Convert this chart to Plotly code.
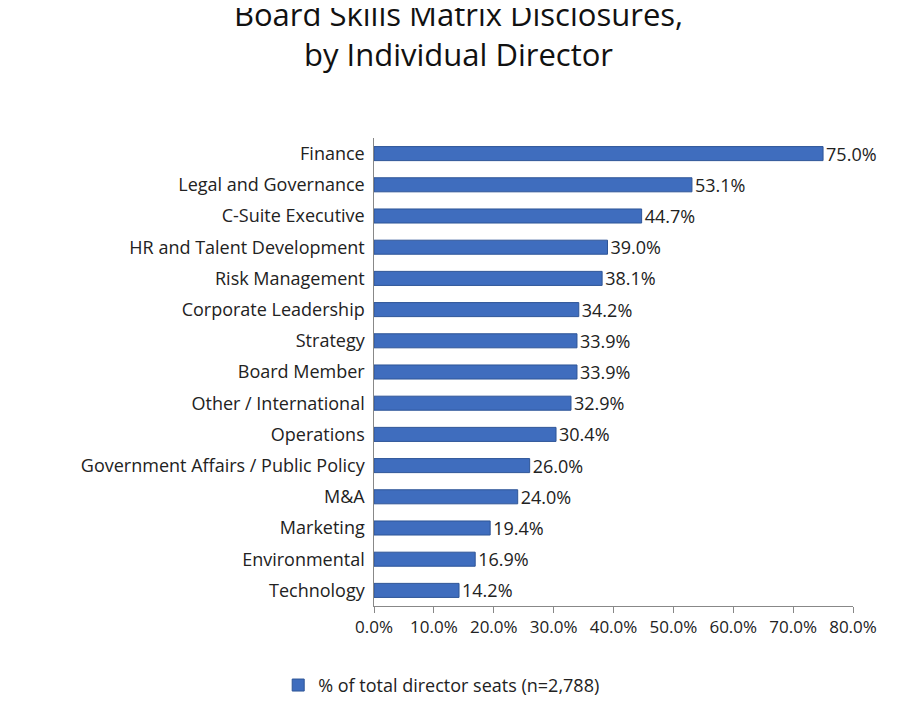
import plotly.graph_objects as go

categories = ["Finance", "Legal and Governance", "C-Suite Executive", "HR and Talent Development",
              "Risk Management", "Corporate Leadership", "Strategy", "Board Member",
              "Other / International", "Operations", "Government Affairs / Public Policy",
              "M&A", "Marketing", "Environmental", "Technology"]
values = [75.0, 53.1, 44.7, 39.0, 38.1, 34.2, 33.9, 33.9, 32.9, 30.4, 26.0, 24.0, 19.4, 16.9, 14.2]
tick_vals = [0, 10, 20, 30, 40, 50, 60, 70, 80]
tick_text = ["0.0%", "10.0%", "20.0%", "30.0%", "40.0%", "50.0%", "60.0%", "70.0%", "80.0%"]
series_name = "% of total director seats (n=2,788)"

fig = go.Figure(go.Bar(
    x=values[::-1], y=categories[::-1], orientation="h", name=series_name,
    marker=dict(color="#3F6DBE", line=dict(color="#2E5597", width=1)),
    text=[f"{v:.1f}%" for v in values[::-1]], textposition="outside",
    textangle=0, constraintext="none",
    textfont=dict(size=18, color="#222"), cliponaxis=False, showlegend=True,
))
fig.update_layout(
    width=901, height=713, paper_bgcolor="white", plot_bgcolor="white",
    font=dict(family="Open Sans", size=18, color="#222"),
    title=dict(text="Board Skills Matrix Disclosures,<br>by Individual Director",
               x=0.5, xanchor="center", y=0.975, yanchor="top", font=dict(size=31, color="#111")),
    margin=dict(l=366, r=56, t=130, b=115),
    bargap=0.55,
    uniformtext=dict(minsize=18, mode="show"),
    xaxis=dict(range=[0, 80], tickvals=tick_vals, ticktext=tick_text, showgrid=False,
               showline=True, linecolor="#888", ticks="outside", tickcolor="#888", ticklen=6,
               tickfont=dict(size=17)),
    yaxis=dict(showline=True, linecolor="#888", ticks="", ticksuffix=" ",
               tickfont=dict(size=18), automargin=False),
    legend=dict(orientation="h", x=-0.2, xanchor="left", y=-0.13, yanchor="top",
                font=dict(size=18)),
)
fig.update_xaxes(automargin=False)
fig.write_html("out.html")
